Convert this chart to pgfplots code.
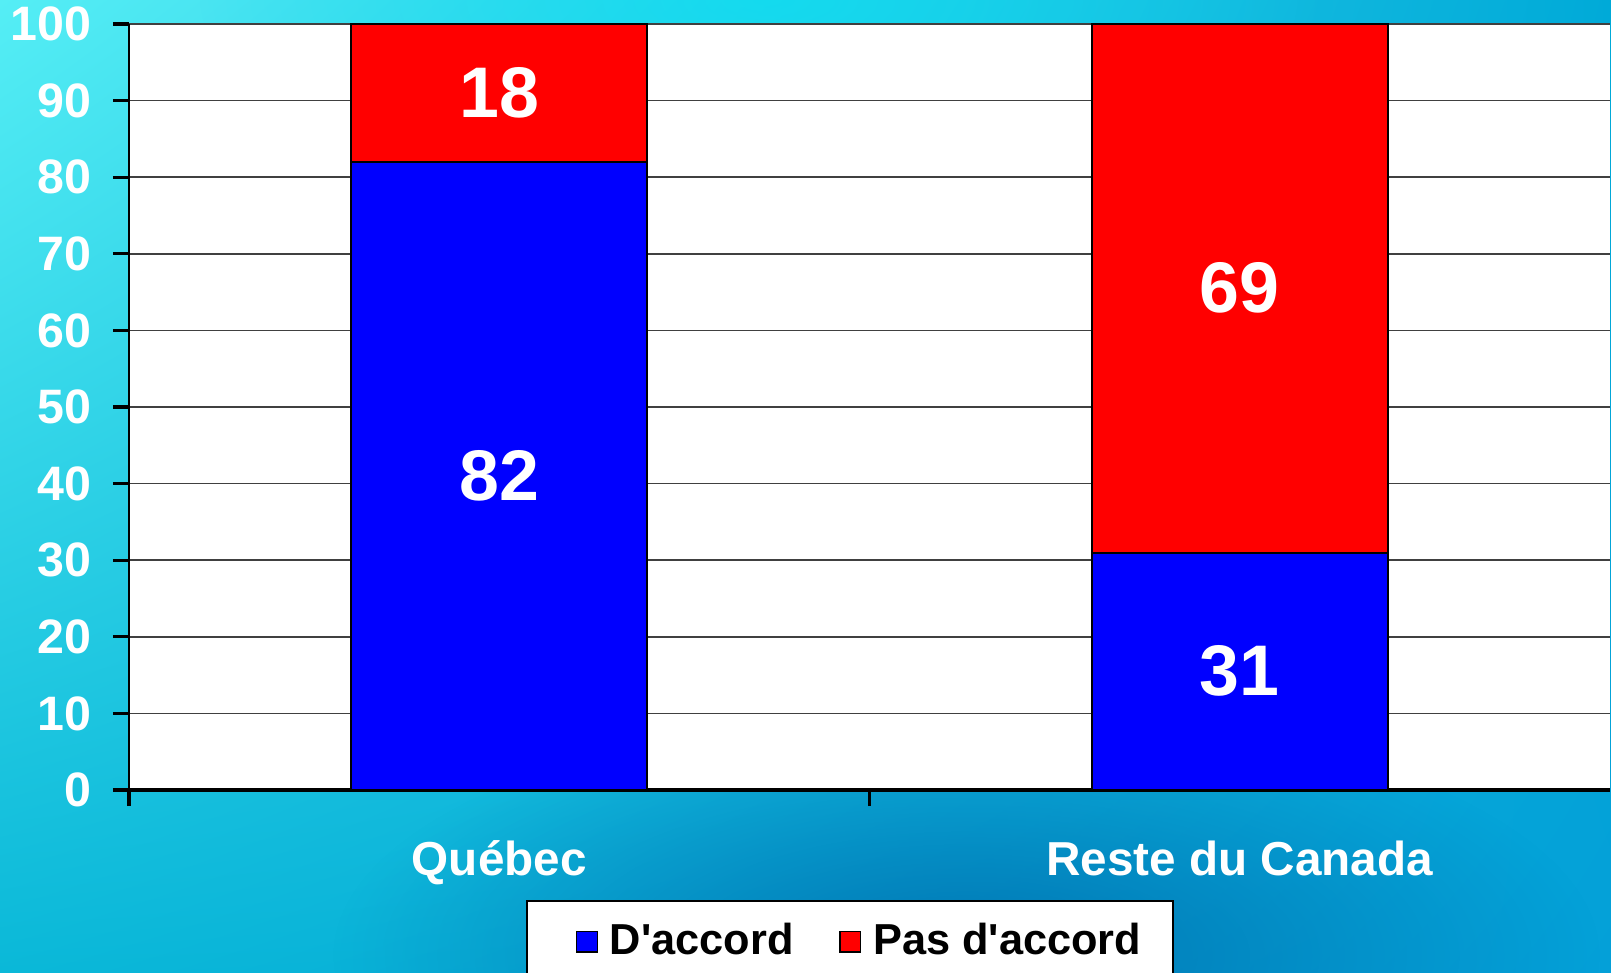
\documentclass[border=0pt]{standalone}
\usepackage{pgfplots}
\pgfplotsset{compat=1.18}
\usetikzlibrary{shadings,fadings}
\usepackage{fontspec}
\setmainfont{Liberation Sans}[Ligatures=TeXOff]
\definecolor{barblue}{HTML}{0000FF}
\definecolor{barred}{HTML}{FF0000}
\definecolor{bgUL}{HTML}{55EEF5}
\definecolor{bgUR}{HTML}{00AAD8}
\definecolor{bgLL}{HTML}{0AB8D8}
\definecolor{bgLR}{HTML}{04A0D8}
\definecolor{blob}{HTML}{0070B0}
\definecolor{glow}{HTML}{0AE0F2}
\tikzfading[name=softfade, inner color=transparent!0, outer color=transparent!100]
\pgfplotsset{sqlegend/.style={legend image code/.code={\path (0pt,0pt) (14.6pt,0pt);\draw[##1,draw=black,line width=0.4pt] (6.9pt,-3.1pt) rectangle (13.1pt,3.1pt);}}}
\begin{document}
\begin{tikzpicture}
\useasboundingbox (0,0) rectangle (483.3pt,291.6pt);
\clip (0,0) rectangle (483.3pt,291.6pt);
\shade[upper left=bgUL, upper right=bgUR, lower left=bgLL, lower right=bgLR] (0,0) rectangle (483.3pt,291.6pt);
\fill[glow, path fading=softfade, fill opacity=0.7] (230pt,291.6pt) ellipse (170pt and 60pt);
\fill[blob, path fading=softfade, fill opacity=0.9] (290pt,5pt) ellipse (190pt and 75pt);
\begin{axis}[
  at={(38.7pt,54.6pt)}, anchor=south west,
  scale only axis, width=444.3pt, height=229.8pt,
  xmin=-0.5, xmax=1.5, ymin=0, ymax=100,
  ybar stacked, bar width=0.4,
  axis background/.style={fill=white},
  axis x line*=bottom, axis y line*=left,
  axis line style={-},
  x axis line style={line width=1.2pt},
  y axis line style={line width=0.5pt},
  tick align=outside,
  major tick length=4.8pt,
  tick style={black, line width=1pt},
  ytick={0,10,...,100},
  xtick={-0.5,0.5},
  xticklabels={},
  extra x ticks={0,1},
  extra x tick labels={Québec, Reste du Canada},
  extra x tick style={grid=none, major tick length=0pt,
    tick label style={font=\bfseries\fontsize{14.3}{15}\selectfont, text=white, anchor=base, yshift=-25.5pt}},
  ymajorgrids,
  grid style={line width=0.5pt, color=black!75},
  /pgf/number format/assume math mode=true,
  yticklabel style={font=\bfseries\fontsize{14.5}{15}\selectfont, text=white, xshift=-3pt},
  point meta=rawy,
  nodes near coords,
  every node near coord/.append style={font=\bfseries\fontsize{21.5}{22}\selectfont, text=white, anchor=center},
  legend style={at={(0.487,-0.1436)}, anchor=north, draw=black, fill=white, line width=0.5pt,
    legend columns=2, font=\bfseries\fontsize{13}{13}\selectfont, inner xsep=7.6pt, inner ysep=4.8pt,
    /tikz/every even column/.append style={column sep=4.7pt}},
]
\addplot[fill=barblue, draw=black, line width=0.6pt, sqlegend] coordinates {(0,82) (1,31)};
\addplot[fill=barred, draw=black, line width=0.6pt, sqlegend] coordinates {(0,18) (1,69)};
\legend{D'accord, Pas d'accord}
\end{axis}
\end{tikzpicture}
\end{document}
